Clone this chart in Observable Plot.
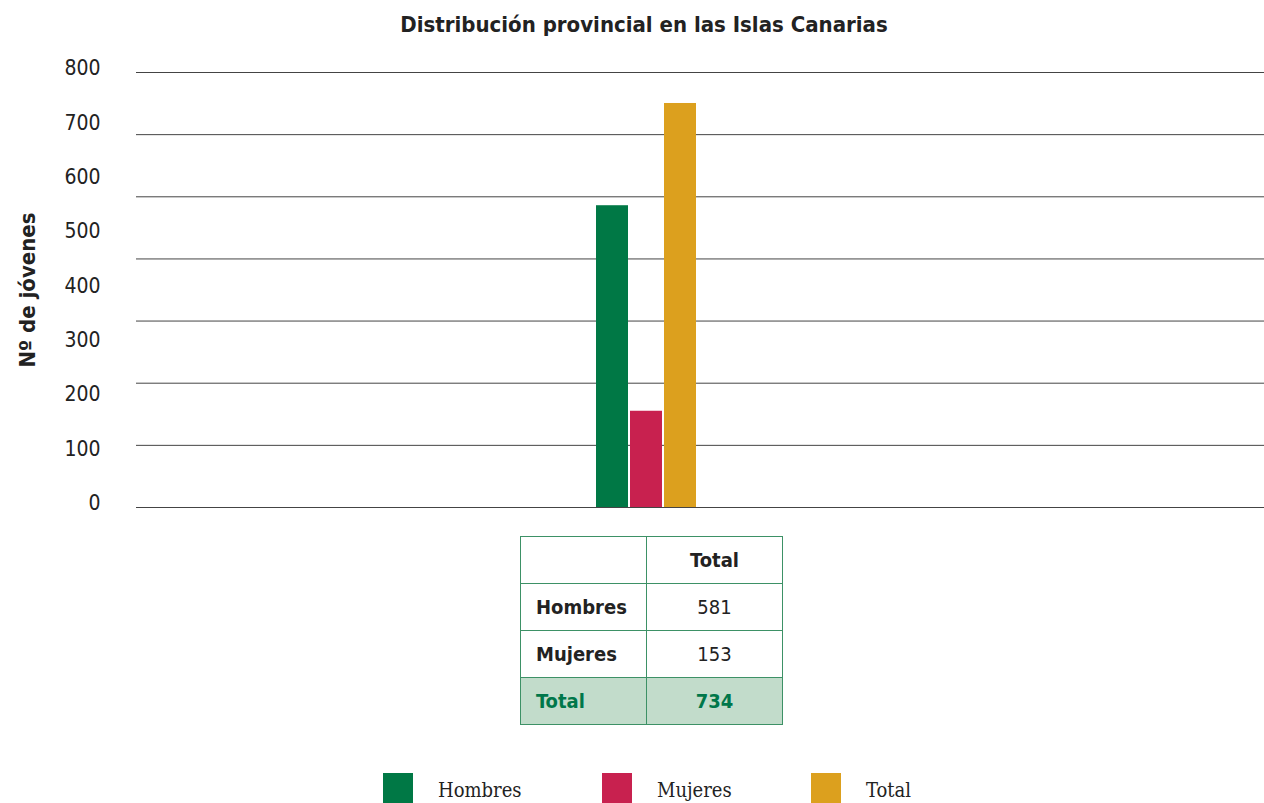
<!DOCTYPE html>
<html>
<head>
<meta charset="utf-8">
<script src="https://cdn.jsdelivr.net/npm/d3@7"></script>
<script src="https://cdn.jsdelivr.net/npm/@observablehq/plot@0.6"></script>
<style>
  html, body { margin: 0; padding: 0; background: #fff; }
  body { width: 1264px; height: 803px; position: relative; overflow: hidden;
         font-family: "DejaVu Sans Condensed", "Liberation Sans Narrow", "Roboto", sans-serif; font-stretch: condensed; color: #222; }
  #title { position: absolute; top: 12px; left: 0; width: 1288px; text-align: center;
           font-weight: bold; font-size: 22px; color: #222; }
  #chart { position: absolute; top: 50px; left: 0; }
  #tbl { position: absolute; top: 536px; left: 520px; border-collapse: collapse; font-size: 20px; }
  #tbl td { border: 1.5px solid #3d9166; height: 46px; padding: 0; }
  #tbl td.lab { width: 110px; padding-left: 15px; font-weight: bold; }
  #tbl td.val { width: 135px; text-align: center; }
  #tbl tr.tot td { background: #c2dccb; color: #00774a; font-weight: bold; }
  #legend { position: absolute; top: 773px; left: 0; width: 1264px; }
  .li { position: absolute; top: 0; display: flex; align-items: center; }
  .sw { width: 30px; height: 30px; }
  .lt { font-family: "DejaVu Serif", "Liberation Serif", serif; font-stretch: condensed; font-size: 20px; color: #222; margin-left: 25px; position: relative; top: 2px; }
</style>
</head>
<body>
<div id="title">Distribución provincial en las Islas Canarias</div>
<div id="chart"></div>
<table id="tbl"></table>
<div id="legend"></div>
<script>
// Data
const series = ["Hombres", "Mujeres", "Total"];
const barValues = [555, 177, 743];          // bar heights as drawn in the chart
const tableValues = [581, 153, 734];         // values printed in the table
const colors = ["#007845", "#c8214f", "#dca01e"];
const yTicks = [0, 100, 200, 300, 400, 500, 600, 700, 800];
const gridValues = [0, 114.3, 228.6, 342.9, 457.1, 571.4, 685.7, 800];
const yLabel = "Nº de jóvenes";

const bars = series.map((s, i) => ({serie: s, value: barValues[i]}));

const plot = Plot.plot({
  width: 1264,
  height: 480,
  marginLeft: 136,
  marginRight: 0,
  marginTop: 22,
  marginBottom: 23,
  style: {fontFamily: '"DejaVu Sans Condensed", "Liberation Sans Narrow", Roboto, sans-serif', fontSize: "20px", color: "#222", background: "#fff"},
  x: {type: "band", domain: series, range: [595, 696], paddingInner: 0.07, paddingOuter: 0, axis: null},
  y: {domain: [0, 800], axis: null},
  color: {domain: series, range: colors},
  marks: [
    Plot.ruleY(gridValues, {stroke: "#444", strokeWidth: 1}),
    Plot.barY(bars, {x: "serie", y: "value", fill: "serie"}),
    Plot.text(yTicks, {y: d => d, frameAnchor: "left", dx: -36, dy: -4, textAnchor: "end", text: d => String(d), fill: "#222", fontSize: 21}),
    Plot.text([yLabel], {frameAnchor: "left", dx: -109, rotate: -90, textAnchor: "middle", text: d => d, fontWeight: "bold", fontSize: 22, fill: "#222"})
  ]
});
document.getElementById("chart").appendChild(plot);

// Table
const tbl = document.getElementById("tbl");
let html = '<tr><td class="lab"></td><td class="val" style="font-weight:bold">Total</td></tr>';
series.forEach((s, i) => {
  html += `<tr class="${s === "Total" ? "tot" : ""}"><td class="lab">${s}</td><td class="val">${tableValues[i]}</td></tr>`;
});
tbl.innerHTML = html;

// Legend
const legend = document.getElementById("legend");
const legendX = [383, 602, 811];
series.forEach((s, i) => {
  const d = document.createElement("div");
  d.className = "li";
  d.style.left = legendX[i] + "px";
  d.innerHTML = `<div class="sw" style="background:${colors[i]}"></div><span class="lt">${s}</span>`;
  legend.appendChild(d);
});
</script>
</body>
</html>
